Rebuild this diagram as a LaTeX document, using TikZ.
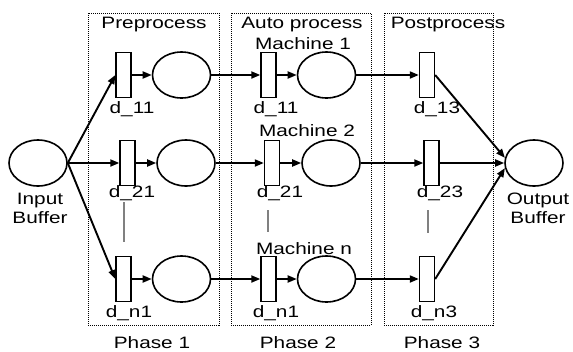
\documentclass[tikz,border=0pt]{standalone}
\usepackage{fontspec}
\setmainfont{Liberation Sans}[FakeStretch=1.26]
\usetikzlibrary{arrows.meta,shapes.geometric}
\begin{document}
\begin{tikzpicture}[x=1pt,y=-1pt,
  place/.style={ellipse,draw,line width=1.6pt,minimum width=58pt,minimum height=46pt,inner sep=0pt},
  trans/.style={rectangle,draw,line width=1.4pt,minimum width=15pt,minimum height=45pt,inner sep=0pt},
  arc/.style={-{Triangle[length=9pt,width=7pt]},line width=1.9pt},
  phasebox/.style={draw,densely dotted,line width=1pt,inner sep=0pt},
  lbl/.style={font=\fontsize{16.5}{19}\selectfont,inner sep=0pt,align=center},
  sepline/.style={draw=gray,line width=1.4pt}]
\useasboundingbox (0,0) rectangle (573,351);
% phase boxes
\node[phasebox,minimum width=131pt,minimum height=312pt] (ph1) at (153.5,169) {};
\node[phasebox,minimum width=140pt,minimum height=312pt] (ph2) at (301,169) {};
\node[phasebox,minimum width=109pt,minimum height=312pt] (ph3) at (438.5,169) {};
% titles
\node[lbl] (ttl1) at (154,25) {Preprocess};
\node[lbl] (ttl2) at (302,25) {Auto process};
\node[lbl] (ttl3) at (448,25) {Postprocess};
\node[lbl] (ph1l) at (152,343) {Phase 1};
\node[lbl] (ph2l) at (298,343) {Phase 2};
\node[lbl] (ph3l) at (442,343) {Phase 3};
% buffers
\node[place] (in) at (38,163) {};
\node[place] (out) at (534,163) {};
\node[lbl] (inl) at (40,208) {Input\\Buffer};
\node[lbl] (outl) at (538,208) {Output\\Buffer};
% row 1
\node[trans] (t11) at (123.5,75) {};
\node[place] (p11) at (181.5,75) {};
\node[trans] (t12) at (268.5,75) {};
\node[place] (p12) at (326.5,75) {};
\node[trans] (t13) at (427,75) {};
% row 2
\node[trans] (t21) at (127.5,163) {};
\node[place] (p21) at (186,163) {};
\node[trans] (t22) at (272,163) {};
\node[place] (p22) at (331,163) {};
\node[trans] (t23) at (431.5,163) {};
% row n
\node[trans] (tn1) at (123.5,279) {};
\node[place] (pn1) at (181.5,279) {};
\node[trans] (tn2) at (268.5,279) {};
\node[place] (pn2) at (326.5,279) {};
\node[trans] (tn3) at (427,279) {};
% machine labels
\node[lbl] (m1) at (303,44) {Machine 1};
\node[lbl] (m2) at (307,131) {Machine 2};
\node[lbl] (mn) at (304,249) {Machine n};
% d labels
\node[lbl] (d11) at (132,109) {d\_11};
\node[lbl] (d12) at (276,109) {d\_11};
\node[lbl] (d13) at (437,109) {d\_13};
\node[lbl] (d21) at (132,193) {d\_21};
\node[lbl] (d22) at (280,193) {d\_21};
\node[lbl] (d23) at (440,193) {d\_23};
\node[lbl] (dn1) at (129,313) {d\_n1};
\node[lbl] (dn2) at (276,313) {d\_n1};
\node[lbl] (dn3) at (434,313) {d\_n3};
% ellipsis lines
\draw[sepline] (124,202) -- (124,242);
\draw[sepline] (268,210) -- (268,232);
\draw[sepline] (428,210) -- (428,233);
% arcs
\draw[arc] (in.east) -- (t11.west);
\draw[arc] (in.east) -- (t21.west);
\draw[arc] (in.east) -- (tn1.west);
\foreach \r in {1,2,n}{
  \draw[arc] (t\r1) -- (p\r1);
  \draw[arc] (p\r1) -- (t\r2);
  \draw[arc] (t\r2) -- (p\r2);
  \draw[arc] (p\r2) -- (t\r3);
}
\draw[arc] (t13.east) -- (out.170);
\draw[arc] (t23.east) -- (out.west);
\draw[arc] (tn3.east) -- (out.190);
\end{tikzpicture}
\end{document}
